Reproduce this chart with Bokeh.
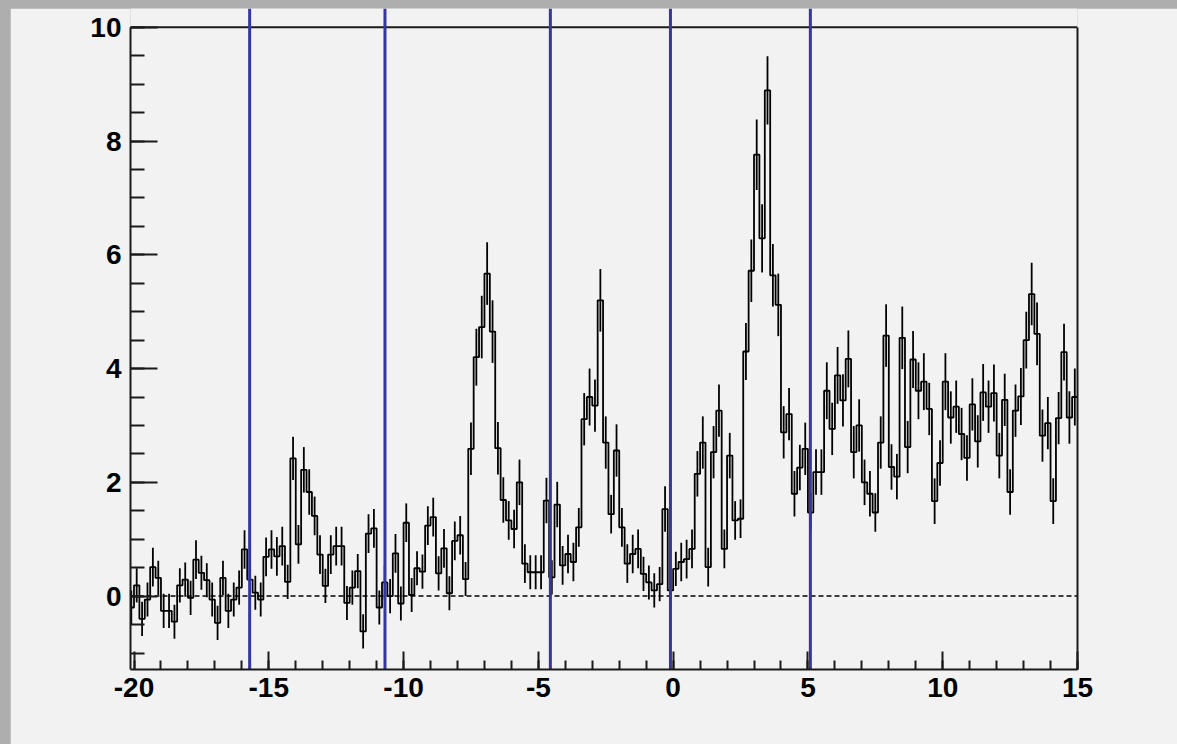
import numpy as np
from bokeh.plotting import figure
from bokeh.layouts import column
from bokeh.models import (Range1d, LinearAxis, SingleIntervalTicker, FixedTicker,
                          Span, ColumnDataSource, PrintfTickFormatter)
from bokeh.embed import file_html
from bokeh.resources import INLINE

# ---- data -------------------------------------------------------------
bin_low = -20.2
bin_width = 0.2

counts = [
    -0.20, 0.19, -0.40, -0.06, 0.51, 0.32, -0.26, -0.26, -0.45, 0.19,
    0.29, -0.03, 0.64, 0.41, 0.28, -0.06, -0.47, 0.32, -0.26, -0.06,
    0.15, 0.82, 0.29, 0.06, -0.06, 0.69, 0.82, 0.70, 0.88, 0.25,
    2.42, 0.91, 2.22, 1.83, 1.41, 0.73, 0.18, 0.73, 0.88, 0.88,
    -0.12, 0.15, 0.44, -0.62, 1.10, 1.19, -0.20, 0.24, 0.00, 0.75,
    -0.13, 1.29, 0.02, 0.49, 0.43, 1.24, 1.39, 0.40, 0.84, 0.05,
    0.97, 1.07, 0.30, 2.59, 4.20, 4.73, 5.67, 4.65, 2.60, 1.69,
    1.33, 1.18, 2.00, 0.57, 0.42, 0.42, 0.42, 1.68, 0.33, 1.61,
    0.54, 0.74, 0.60, 1.21, 3.11, 3.50, 3.35, 5.20, 2.70, 1.44,
    2.56, 1.21, 0.57, 0.74, 0.83, 0.39, 0.24, 0.10, 0.21, 1.53,
    0.10, 0.48, 0.60, 0.65, 0.83, 2.15, 2.70, 0.51, 2.53, 3.26,
    0.83, 2.47, 1.33, 1.36, 4.30, 5.72, 7.76, 6.29, 8.89, 5.64,
    5.12, 2.88, 3.20, 1.80, 2.26, 2.59, 1.47, 2.18, 2.18, 3.61,
    2.94, 3.88, 3.44, 4.17, 2.53, 3.00, 2.00, 1.80, 1.47, 2.70,
    4.58, 2.27, 2.10, 4.54, 2.62, 4.16, 3.61, 3.77, 3.29, 1.67,
    2.34, 3.77, 3.14, 3.33, 2.85, 2.43, 3.37, 2.72, 3.58, 3.33,
    3.57, 2.47, 3.45, 1.83, 3.26, 3.51, 4.50, 5.31, 4.61, 2.82,
    3.04, 1.67, 3.13, 4.29, 3.14, 3.50,
]

errors = [
    0.30, 0.30, 0.30, 0.30, 0.34, 0.30, 0.30, 0.30, 0.30, 0.30,
    0.30, 0.30, 0.34, 0.30, 0.30, 0.30, 0.30, 0.30, 0.30, 0.30,
    0.30, 0.34, 0.30, 0.30, 0.30, 0.34, 0.34, 0.34, 0.34, 0.30,
    0.38, 0.34, 0.40, 0.40, 0.34, 0.34, 0.30, 0.34, 0.34, 0.34,
    0.30, 0.30, 0.30, 0.30, 0.34, 0.34, 0.30, 0.30, 0.30, 0.34,
    0.30, 0.34, 0.30, 0.30, 0.30, 0.34, 0.34, 0.30, 0.34, 0.30,
    0.34, 0.34, 0.30, 0.46, 0.50, 0.55, 0.55, 0.55, 0.46, 0.40,
    0.34, 0.34, 0.40, 0.34, 0.30, 0.30, 0.30, 0.40, 0.30, 0.40,
    0.34, 0.34, 0.34, 0.34, 0.46, 0.50, 0.46, 0.55, 0.46, 0.34,
    0.46, 0.34, 0.34, 0.34, 0.34, 0.30, 0.30, 0.30, 0.30, 0.40,
    0.30, 0.30, 0.34, 0.34, 0.34, 0.40, 0.46, 0.34, 0.46, 0.46,
    0.34, 0.40, 0.34, 0.34, 0.50, 0.55, 0.62, 0.60, 0.60, 0.55,
    0.55, 0.46, 0.46, 0.40, 0.40, 0.46, 0.34, 0.40, 0.40, 0.50,
    0.46, 0.50, 0.46, 0.50, 0.46, 0.46, 0.40, 0.40, 0.34, 0.46,
    0.55, 0.40, 0.40, 0.55, 0.46, 0.50, 0.50, 0.50, 0.46, 0.40,
    0.40, 0.50, 0.46, 0.46, 0.46, 0.40, 0.46, 0.46, 0.50, 0.46,
    0.50, 0.40, 0.46, 0.40, 0.46, 0.50, 0.50, 0.55, 0.55, 0.46,
    0.46, 0.40, 0.46, 0.50, 0.46, 0.50,
]

marker_positions = [-15.71, -10.69, -4.555, -0.10, 5.09]

x_ticks_interval = 5
y_ticks_interval = 2

# ---- derived geometry --------------------------------------------------
vals = np.array(counts)
errs = np.array(errors)
nb = len(vals)
edges = bin_low + bin_width * np.arange(nb + 1)
centers = 0.5 * (edges[:-1] + edges[1:])
step_x = np.repeat(edges, 2)[1:-1]
step_y = np.repeat(vals, 2)

x0, x1 = -20.13, 15.0
y0, y1 = -1.29, 10.33
frame_top_value = 10

AX = "#1a1a1a"
BG = "#f2f2f2"
FONT = "Liberation Sans"

p = figure(width=1167, height=736, output_backend="svg", toolbar_location=None,
           x_range=Range1d(x0, x1), y_range=Range1d(y0, y1),
           min_border_left=120, min_border_right=100, min_border_top=0,
           min_border_bottom=75, margin=(8, 0, 0, 10))
p.background_fill_color = BG
p.border_fill_color = BG
p.outline_line_color = None
p.xgrid.visible = False
p.ygrid.visible = False

# bottom axis
xa = p.xaxis[0]
xa.ticker = SingleIntervalTicker(interval=x_ticks_interval, num_minor_ticks=5)
xa.formatter = PrintfTickFormatter(format="%d")
xa.major_tick_in = 18
xa.major_tick_out = 0
xa.minor_tick_in = 9
xa.minor_tick_out = 0
xa.axis_line_width = 2
xa.axis_line_color = AX
xa.major_tick_line_width = 2
xa.minor_tick_line_width = 2
xa.major_tick_line_color = AX
xa.minor_tick_line_color = AX
xa.major_label_text_font = FONT
xa.major_label_text_font_style = "bold"
xa.major_label_text_font_size = "28px"
xa.major_label_text_color = "black"
xa.major_label_standoff = 8

# left axis
ya = p.yaxis[0]
ya.ticker = SingleIntervalTicker(interval=y_ticks_interval, num_minor_ticks=4)
ya.formatter = PrintfTickFormatter(format="%d")
ya.bounds = (y0, frame_top_value)
ya.major_tick_in = 27
ya.major_tick_out = 0
ya.minor_tick_in = 14
ya.minor_tick_out = 0
ya.axis_line_width = 2
ya.axis_line_color = AX
ya.major_tick_line_width = 2
ya.minor_tick_line_width = 2
ya.major_tick_line_color = AX
ya.minor_tick_line_color = AX
ya.major_label_text_font = FONT
ya.major_label_text_font_style = "bold"
ya.major_label_text_font_size = "28px"
ya.major_label_text_color = "black"
ya.major_label_standoff = 9

# right frame edge (no ticks, no labels)
ra = LinearAxis(bounds=(y0, frame_top_value), ticker=FixedTicker(ticks=[]),
                major_tick_in=0, major_tick_out=0,
                minor_tick_in=0, minor_tick_out=0, axis_line_width=2,
                axis_line_color=AX, major_label_standoff=0)
p.add_layout(ra, "right")

# top frame edge and zero line
p.add_layout(Span(location=frame_top_value, dimension="width", line_color=AX,
                  line_width=2, level="underlay"))
p.add_layout(Span(location=0, dimension="width", line_color="black",
                  line_width=1.5, line_dash="5 3", level="underlay"))

# histogram
src = ColumnDataSource(dict(x=centers, lo=vals - errs, hi=vals + errs))
p.line(step_x, step_y, line_color="black", line_width=1.8)
p.segment(x0="x", y0="lo", x1="x", y1="hi", source=src,
          line_color="black", line_width=1.8)

# blue markers
mk = ColumnDataSource(dict(x=marker_positions,
                           b=[y0] * len(marker_positions),
                           t=[y1] * len(marker_positions)))
p.segment(x0="x", y0="b", x1="x", y1="t", source=mk,
          line_color="#3535a3", line_width=3)

page = column(p, styles={"background-color": "#aeaeae"})
open("out.html", "w").write(file_html(page, INLINE))
